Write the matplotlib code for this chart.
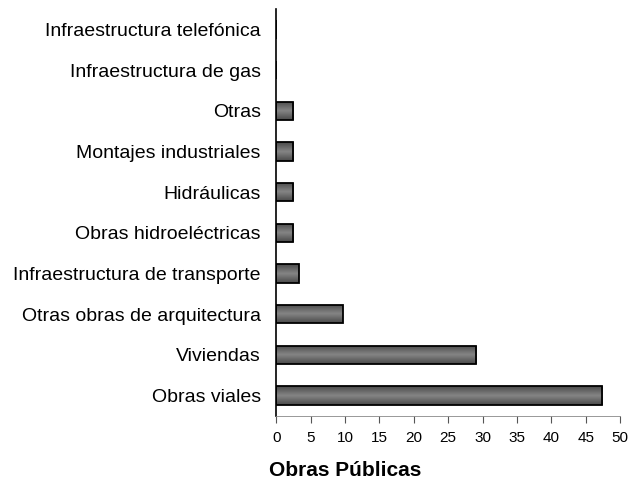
import matplotlib
matplotlib.use('Agg')
import matplotlib.pyplot as plt
import numpy as np
from matplotlib.colors import LinearSegmentedColormap

plt.rcParams['font.family'] = ['Liberation Sans', 'DejaVu Sans']

# categorias de abajo hacia arriba
categorias = ['Obras viales', 'Viviendas', 'Otras obras de arquitectura',
              'Infraestructura de transporte', 'Obras hidroeléctricas',
              'Hidráulicas', 'Montajes industriales', 'Otras',
              'Infraestructura de gas', 'Infraestructura telefónica']
valores = [47.4, 29.1, 9.7, 3.3, 2.5, 2.5, 2.5, 2.5, 0, 0]
xticks = [0, 5, 10, 15, 20, 25, 30, 35, 40, 45, 50]

fig = plt.figure(figsize=(6.29, 4.82), dpi=100)
ax = fig.add_axes([0.439, 0.137, 0.547, 0.844])

pos = list(range(len(categorias)))
bars = ax.barh(pos, valores, height=0.45, color='#6e6e6e', edgecolor='black',
               linewidth=1.3, zorder=3)

# degradado gris en cada barra (oscuro en los bordes, claro al centro)
cmap = LinearSegmentedColormap.from_list('gris', ['#4a4a4a', '#858585', '#4a4a4a'])
grad = np.linspace(0, 1, 64).reshape(-1, 1)
for b in bars:
    if b.get_width() <= 0:
        continue
    x0, y0 = b.get_x(), b.get_y()
    im = ax.imshow(grad, cmap=cmap, aspect='auto', zorder=2,
                   extent=[x0, x0 + b.get_width(), y0, y0 + b.get_height()])
    im.set_clip_path(b)
    b.set_facecolor('none')

ax.set_ylim(-0.5, len(categorias) - 0.5)
ax.set_xlim(0, 50)
ax.set_yticks(pos)
ax.set_yticklabels(categorias, fontsize=14)
ax.tick_params(axis='y', length=0, pad=11)
ax.set_xticks(xticks)
ax.set_xticklabels([str(t) for t in xticks], fontsize=11)
ax.tick_params(axis='x', direction='out', length=5, width=0.8, color='#555555', pad=6)

for s in ['top', 'right']:
    ax.spines[s].set_visible(False)
ax.spines['left'].set_linewidth(1.2)
ax.spines['bottom'].set_linewidth(0.6)
ax.spines['bottom'].set_color('#888888')

fig.text(345 / 629, 1 - 471 / 482, 'Obras Públicas', fontsize=15, fontweight='bold',
         ha='center', va='center')

fig.savefig('out.png')
